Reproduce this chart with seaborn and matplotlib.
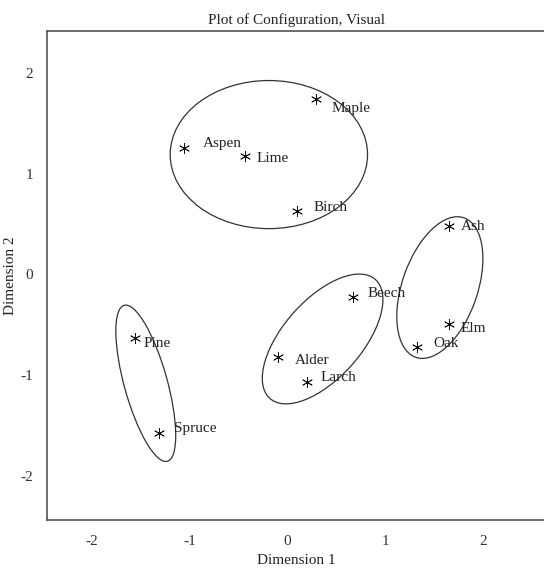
import numpy as np
import pandas as pd
import matplotlib
matplotlib.use("Agg")
import matplotlib.pyplot as plt
from matplotlib.patches import Ellipse
import seaborn as sns

# --- configuration coordinates
names = ["Maple", "Aspen", "Lime", "Birch", "Ash", "Elm", "Oak",
         "Beech", "Alder", "Larch", "Pine", "Spruce"]
dim1 = [0.29, -1.06, -0.43, 0.10, 1.65, 1.65, 1.33, 0.67, -0.10, 0.20, -1.56, -1.31]
dim2 = [1.74, 1.26, 1.18, 0.63, 0.48, -0.49, -0.72, -0.22, -0.82, -1.07, -0.63, -1.57]

# --- cluster ellipses: centre x, centre y, width, height, angle
ell_x = [-0.19, 1.56, 0.36, -1.45]
ell_y = [1.19, -0.13, -0.64, -1.08]
ell_w = [2.02, 1.47, 1.60, 1.61]
ell_h = [1.47, 0.77, 0.79, 0.44]
ell_a = [0, 70, 47, 106]

df = pd.DataFrame({"name": names, "dim1": dim1, "dim2": dim2})

# label offsets (pixels right / down from the point)
offsets = {"Maple": (16, 9), "Aspen": (19, -4), "Lime": (11, 3), "Birch": (16, -3),
           "Ash": (12, 0), "Elm": (12, 5), "Oak": (16, -4), "Beech": (15, -3),
           "Alder": (17, 3), "Larch": (14, -5), "Pine": (9, 6), "Spruce": (15, -4)}

sns.set_style("white")
plt.rcParams["font.family"] = ["Liberation Serif", "DejaVu Serif"]
plt.rcParams["axes.unicode_minus"] = False

fig = plt.figure(figsize=(5.44, 5.68), dpi=100)
ax = fig.add_axes([0.0864, 0.0845, 0.917, 0.861])

sns.scatterplot(x="dim1", y="dim2", data=df, marker=(6, 2, 0), color="#111111",
                s=55, linewidth=0.6, ax=ax, legend=False)

for _, r in df.iterrows():
    dx, dy = offsets[r["name"]]
    ax.annotate(r["name"], (r["dim1"], r["dim2"]), xytext=(dx * 0.72, -dy * 0.72),
                textcoords="offset points", ha="left", va="center", fontsize=11,
                color="#222222")

for cx, cy, w, h, a in zip(ell_x, ell_y, ell_w, ell_h, ell_a):
    ax.add_patch(Ellipse((cx, cy), w, h, angle=a, fill=False, edgecolor="#333333", linewidth=0.9))

ax.set_xlim(-2.461, 2.645)
ax.set_ylim(-2.437, 2.417)
ax.set_xticks([-2, -1, 0, 1, 2])
ax.set_yticks([-2, -1, 0, 1, 2])
ax.tick_params(direction="out", length=6, width=1, pad=5, colors="#444444",
               labelcolor="#333333", labelsize=11)
ax.tick_params(axis="y", pad=4)
for sp in ax.spines.values():
    sp.set_color("#555555")
    sp.set_linewidth(1.2)

ax.set_title("Plot of Configuration, Visual", fontsize=11, color="#222222", pad=5)
ax.set_xlabel("Dimension 1", fontsize=11, color="#222222", labelpad=4)
ax.set_ylabel("Dimension 2", fontsize=11, color="#222222", va="center")
ax.yaxis.set_label_coords(-0.074, 0.5)

fig.savefig("out.png", dpi=100)
